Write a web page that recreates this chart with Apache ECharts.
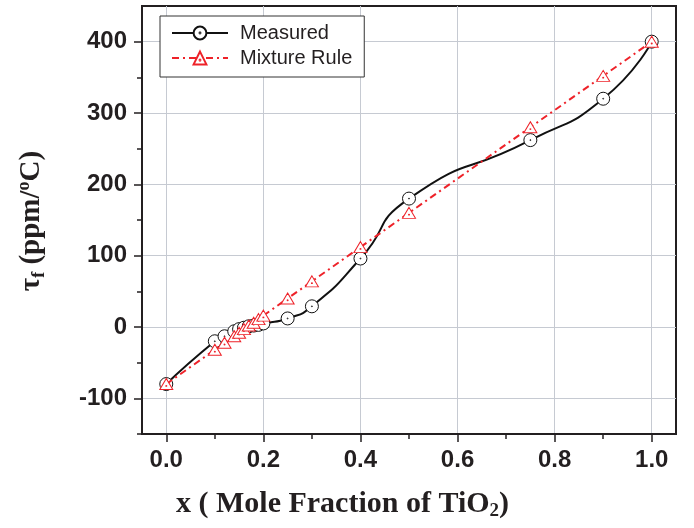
<!DOCTYPE html>
<html>
<head>
<meta charset="utf-8">
<script src="https://cdn.jsdelivr.net/npm/echarts@6/dist/echarts.min.js"></script>
<style>html,body{margin:0;padding:0;background:#fff}#c{width:694px;height:528px}</style>
</head>
<body>
<div id="c"></div>
<script>
const xValues = [0, 0.1, 0.12, 0.14, 0.15, 0.16, 0.17, 0.18, 0.19, 0.2, 0.25, 0.3, 0.4, 0.5, 0.75, 0.9, 1.0];
const measured = [-80, -20, -13, -6, -3, -1, 1, 2, 3, 5, 12, 29, 96, 180, 262, 320, 400];
const mixtureRule = [-80, -32, -22, -13, -8, -3, 2, 6, 11, 16, 40, 64, 112, 160, 280, 352, 400];
const xTicks = [0, 0.2, 0.4, 0.6, 0.8, 1.0];
const xMinorTicks = [0.1, 0.3, 0.5, 0.7, 0.9];
const yTicks = [-100, 0, 100, 200, 300, 400];
const yMinorTicks = [-150, -50, 50, 150, 250, 350];
const seriesNames = ['Measured', 'Mixture Rule'];

const INK = '#231f20';
const RED = '#ee2229';
const GRIDC = '#c6cad2';
const circleSym = 'path://M10,0A10,10 0 1,1 10,20A10,10 0 1,1 10,0Z M10,9.3A0.7,0.7 0 1,1 10,10.7A0.7,0.7 0 1,1 10,9.3Z';
const triSym = 'path://M10,0L20,17.3L0,17.3Z M10,10.8A0.7,0.7 0 1,1 10,12.2A0.7,0.7 0 1,1 10,10.8Z';

function pairs(xs, ys) { return xs.map((x, i) => [x, ys[i]]); }

const labelFont = {fontSize: 24, fontWeight: 'bold', fontFamily: 'Liberation Sans', color: INK};
const serifB = {fontWeight: 'bold', fontFamily: 'Liberation Serif', fill: INK};

const chart = echarts.init(document.getElementById('c'), null, {renderer: 'canvas'});
chart.setOption({
  animation: false,
  backgroundColor: '#fff',
  grid: {left: 142, top: 6, right: 18, bottom: 94, show: true, borderColor: INK, borderWidth: 2, backgroundColor: '#fff'},
  legend: {
    data: seriesNames,
    orient: 'vertical',
    left: 160, top: 16,
    padding: [7, 12, 9, 11],
    itemGap: 5,
    itemWidth: 56, itemHeight: 16,
    backgroundColor: '#fff',
    borderColor: '#333', borderWidth: 1, borderRadius: 0,
    textStyle: {fontSize: 20, fontFamily: 'Liberation Sans', color: INK, padding: [0, 0, 0, 7]}
  },
  xAxis: [
    {type: 'value', min: -0.05, max: 1.05, position: 'bottom',
     axisLine: {show: true, onZero: false, lineStyle: {color: INK, width: 2}},
     axisTick: {show: true, length: 8, customValues: xTicks, lineStyle: {color: INK, width: 1.5}},
     axisLabel: Object.assign({customValues: xTicks, margin: 14, formatter: v => v.toFixed(1)}, labelFont),
     splitLine: {show: true, lineStyle: {color: GRIDC, width: 1}}},
    {type: 'value', min: -0.05, max: 1.05, position: 'bottom', gridIndex: 0,
     axisLine: {show: false, onZero: false},
     axisTick: {show: true, length: 5, customValues: xMinorTicks, lineStyle: {color: INK, width: 1.5}},
     axisLabel: {show: false}, splitLine: {show: false}}
  ],
  yAxis: [
    {type: 'value', min: -150, max: 450, position: 'left',
     axisLine: {show: true, onZero: false, lineStyle: {color: INK, width: 2}},
     axisTick: {show: true, length: 8, customValues: yTicks, lineStyle: {color: INK, width: 1.5}},
     axisLabel: Object.assign({customValues: yTicks, margin: 15}, labelFont),
     splitLine: {show: true, lineStyle: {color: GRIDC, width: 1}}},
    {type: 'value', min: -150, max: 450, position: 'left', gridIndex: 0,
     axisLine: {show: false, onZero: false},
     axisTick: {show: true, length: 5, customValues: yMinorTicks, lineStyle: {color: INK, width: 1.5}},
     axisLabel: {show: false}, splitLine: {show: false}}
  ],
  series: [
    {name: seriesNames[0], type: 'line', xAxisIndex: 0, yAxisIndex: 0, smooth: 0.6,
     data: pairs(xValues, measured),
     symbol: circleSym, symbolSize: 13,
     lineStyle: {color: '#111', width: 2},
     itemStyle: {color: '#fff', borderColor: '#111', borderWidth: 1},
     emphasis: {disabled: true}, z: 3},
    {name: seriesNames[1], type: 'line', xAxisIndex: 0, yAxisIndex: 0,
     data: pairs(xValues, mixtureRule),
     symbol: triSym, symbolSize: [13, 11],
     lineStyle: {color: RED, width: 2, type: [7, 4, 2, 4]},
     itemStyle: {color: '#fff', borderColor: RED, borderWidth: 1},
     emphasis: {disabled: true}, z: 4}
  ],
  graphic: [
    {type: 'text', x: 176, y: 504,
     style: {text: '{a|x ( Mole Fraction of TiO}{s|2}{a|)}', align: 'left', verticalAlign: 'middle',
       rich: {a: Object.assign({fontSize: 30}, serifB),
              s: Object.assign({fontSize: 19, padding: [15, 0, 0, 0]}, serifB)}}},
    {type: 'text', x: 32, y: 221, rotation: Math.PI / 2,
     style: {text: '{a|τ}{s|f}{a| (ppm/}{u|o}{a|C)}', align: 'center', verticalAlign: 'middle',
       rich: {a: Object.assign({fontSize: 29}, serifB),
              s: Object.assign({fontSize: 18, padding: [15, 0, 0, 0]}, serifB),
              u: Object.assign({fontSize: 18, padding: [0, 0, 15, 0]}, serifB)}}}
  ]
});
</script>
</body>
</html>
